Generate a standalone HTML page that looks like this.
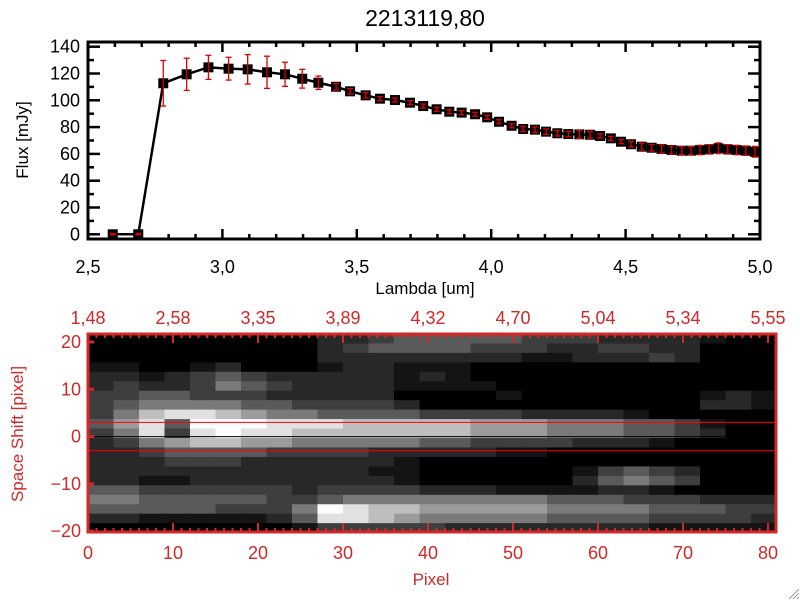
<!DOCTYPE html>
<html><head><meta charset="utf-8">
<style>
html,body{margin:0;padding:0;background:#fff;}
svg{display:block;font-family:"Liberation Sans",sans-serif;}
</style></head>
<body>
<svg id="c" width="800" height="600" viewBox="0 0 800 600">
<rect x="0" y="0" width="800" height="600" fill="#fff"/>
<text x="425" y="26" font-size="23" text-anchor="middle">2213119,80</text>
<g id="topplot"></g>
<g id="botplot"></g>
<g stroke="#999" stroke-width="1">
<line x1="789" y1="599" x2="799" y2="589"/><line x1="793" y1="599" x2="799" y2="593"/><line x1="797" y1="599" x2="799" y2="597"/>
</g>
</svg>
<script>
// ---- top chart data ----
const lambda = [2.592,2.687,2.780,2.867,2.948,3.023,3.094,3.166,3.233,3.297,3.357,3.423,3.475,3.533,3.586,3.642,3.698,3.747,3.797,3.844,3.890,3.940,3.985,4.029,4.076,4.119,4.163,4.204,4.246,4.287,4.328,4.368,4.405,4.445,4.483,4.520,4.560,4.597,4.634,4.671,4.709,4.743,4.777,4.811,4.845,4.880,4.913,4.947,4.981];
const flux = [0,0,112.7,119.4,124.6,123.6,123.1,120.9,119.4,116.1,113.1,110.1,106.7,103.7,101.2,100.2,98.2,95.7,93.3,91.5,90.8,89.6,87.3,84,81,78.6,78.1,76.6,75.4,74.8,74.6,74.3,73.4,71.6,69.1,67.2,65.4,64.6,63.7,62.9,62.4,62.4,62.9,63.4,64.2,63.4,62.9,62.4,61.6];
const fluxErr = [0.5,0.5,17,12,9,8.5,11,12,9,7,5,2.5,2,2,1.5,1.5,1.5,1.5,1.5,1.5,1.5,1.5,1.5,1.5,1.5,2,2,2,2,2,3,2.5,1.5,1.5,1.5,2,2.5,2.5,3,3,3,3,3.5,3.5,4,3.5,3.5,3.5,4];
const xTicks = ["2,5","3,0","3,5","4,0","4,5","5,0"];
const xTickVals = [2.5,3.0,3.5,4.0,4.5,5.0];
const yTickVals = [0,20,40,60,80,100,120,140];

// ---- bottom image data ----
const pixelTicks = [0,10,20,30,40,50,60,70,80];
const lambdaTopLabels = ["1,48","2,58","3,35","3,89","4,32","4,70","5,04","5,34","5,55"];
const shiftTicks = [20,10,0,-10,-20];
const apertureLines = [3,-3];
const traceCenter = 0;
const imgRowCenters = [20.7,18.7,16.7,14.7,12.7,10.7,8.7,6.7,4.7,2.7,0.7,-1.3,-3.3,-5.3,-7.3,-9.3,-11.3,-13.3,-15.3,-17.3,-19.3];
const imgRows = [
"000000000223444443332222100",
"000000000234444333223322000",
"000000000222222221122232000",
"110012000122111000000000000",
"221234322222121000000000000",
"232235432222111100000000000",
"334433322222000010000000121",
"345555443333200000000000221",
"357887655444433332222100000",
"468499988877777666555443100",
"358389887777777666555443200",
"235677665555544333322210000",
"223444433332222211000000000",
"222333222222100000000000000",
"222222222221100000013432000",
"221122222222100000024543000",
"443333332333322211112210000",
"554444433455555555444333222",
"444443335987766666555544433",
"221111124887655555444433332",
"000000001333332222222211111"
];

const NS="http://www.w3.org/2000/svg";
function mk(tag, attrs, parent){const e=document.createElementNS(NS,tag);for(const k in attrs)e.setAttribute(k,attrs[k]);parent.appendChild(e);return e;}

// ===== TOP =====
const topG=document.getElementById('topplot');
const TL=88,TR=760,TT=42,TB=239;
const xS=v=>TL+(v-2.5)/2.5*(TR-TL);
const yS=v=>234.3-v*1.34;
let fr=mk('rect',{x:TL,y:TT,width:TR-TL,height:TB-TT,fill:'none',stroke:'#000','stroke-width':3},topG);


for(let i=0;i<=25;i++){const v=2.5+i*0.1;const x=xS(v);const major=(i%5===0);const L=major?10:5;
 mk('line',{x1:x,y1:TB,x2:x,y2:TB-L,stroke:'#000','stroke-width':2.5},topG);
 mk('line',{x1:x,y1:TT,x2:x,y2:TT+L,stroke:'#000','stroke-width':2.5},topG);}
xTickVals.forEach((v,i)=>{const t=mk('text',{x:xS(v),y:273,'font-size':18,'text-anchor':'middle'},topG);t.textContent=xTicks[i];
 
 });
for(let v=0;v<=140;v+=10){const y=yS(v);const major=(v%20===0);const L=major?12:6;
 mk('line',{x1:TL,y1:y,x2:TL+L,y2:y,stroke:'#000','stroke-width':2.5},topG);
 mk('line',{x1:TR,y1:y,x2:TR-L,y2:y,stroke:'#000','stroke-width':2.5},topG);}
yTickVals.forEach(v=>{const t=mk('text',{x:80,y:yS(v)+6,'font-size':18,'text-anchor':'end'},topG);t.textContent=String(v);
 
 });
let xt=mk('text',{x:425,y:294,'font-size':17,'text-anchor':'middle'},topG);xt.textContent='Lambda [um]';


let yt=mk('text',{x:0,y:0,'font-size':17,'text-anchor':'middle',transform:'translate(28,140) rotate(-90)'},topG);yt.textContent='Flux [mJy]';


let ln=mk('polyline',{points:lambda.map((l,i)=>xS(l)+','+yS(flux[i])).join(' '),fill:'none',stroke:'#000','stroke-width':2.5},topG);


lambda.forEach((l,i)=>{const x=xS(l),y=yS(flux[i]);
 const s=mk('rect',{x:x-5,y:y-5,width:10,height:10,fill:'#000'},topG);
 
 });
lambda.forEach((l,i)=>{const x=xS(l),y1=yS(flux[i]+fluxErr[i]),y2=yS(flux[i]-fluxErr[i]);
 const g=mk('g',{stroke:'#e00000','stroke-width':1.3},topG);
 
 
 mk('line',{x1:x,y1:y1,x2:x,y2:y2},g);
 mk('line',{x1:x-3,y1:y1,x2:x+3,y2:y1},g);
 mk('line',{x1:x-3,y1:y2,x2:x+3,y2:y2},g);});

// ===== BOTTOM =====
const botG=document.getElementById('botplot');
const BL=88,BR=776,BT=334,BB=532;
const pxS=v=>BL+v*8.5;
const syS=v=>436.6-v*4.73;
const pal=[0,20,40,62,90,122,155,190,225,252];
const cols=imgRows[0].length, colW=3;
imgRows.forEach((row,r)=>{const yc=imgRowCenters[r];const y0=Math.max(syS(yc+1),BT),y1=Math.min(syS(yc-1),BB);
 for(let c=0;c<cols;c++){const lv=pal[+row[c]];const x0=pxS(c*colW),x1=Math.min(pxS((c+1)*colW),BR);
  const cell=mk('rect',{x:x0,y:y0,width:x1-x0+0.5,height:y1-y0+0.5,fill:`rgb(${lv},${lv},${lv})`},botG);
  
  }});
apertureLines.forEach(v=>{const l=mk('line',{x1:BL,y1:syS(v),x2:BR,y2:syS(v),stroke:'#ff0000','stroke-width':1},botG);
 
 });
let cl=mk('line',{x1:BL,y1:syS(traceCenter),x2:BR,y2:syS(traceCenter),stroke:'#000','stroke-width':1},botG);


const RED='#d22828';
let bf=mk('rect',{x:BL,y:BT,width:BR-BL,height:BB-BT,fill:'none',stroke:RED,'stroke-width':3},botG);


for(let i=0;i<=80;i++){const x=pxS(i);const L=(i%10===0)?9:4;
 mk('line',{x1:x,y1:BB,x2:x,y2:BB-L,stroke:RED,'stroke-width':2},botG);
 mk('line',{x1:x,y1:BT,x2:x,y2:BT+L,stroke:RED,'stroke-width':2},botG);}
pixelTicks.forEach((v,i)=>{const t=mk('text',{x:pxS(v),y:559,'font-size':18,'text-anchor':'middle',fill:RED},botG);t.textContent=String(v);
 
 
 const u=mk('text',{x:pxS(v),y:324,'font-size':18,'text-anchor':'middle',fill:RED},botG);u.textContent=lambdaTopLabels[i];
 
 });
shiftTicks.forEach(v=>{const y=syS(v);
 mk('line',{x1:BL,y1:y,x2:BL+6,y2:y,stroke:RED,'stroke-width':3},botG);
 const t=mk('text',{x:81,y:y+6,'font-size':18,'text-anchor':'end',fill:RED},botG);t.textContent=(v<0?'\u2212':'')+Math.abs(v);
 
 });
let pt=mk('text',{x:431,y:585,'font-size':17,'text-anchor':'middle',fill:RED},botG);pt.textContent='Pixel';


let st=mk('text',{x:0,y:0,'font-size':17,'text-anchor':'middle',fill:RED,transform:'translate(23,434) rotate(-90)'},botG);st.textContent='Space Shift [pixel]';


</script>
</body></html>
